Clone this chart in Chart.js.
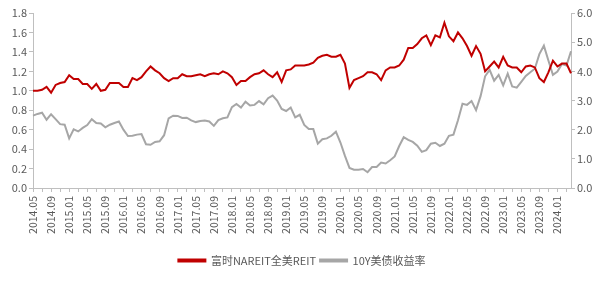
<!DOCTYPE html>
<html>
<head>
<meta charset="utf-8">
<script src="https://cdn.jsdelivr.net/npm/chart.js@4/dist/chart.umd.min.js"></script>
<style>
  html, body { margin: 0; padding: 0; background: #fff; }
  #wrap { width: 604px; height: 282px; }
</style>
</head>
<body>
<div id="wrap"><canvas id="myChart" width="604" height="282"></canvas></div>
<script>
// monthly categories 2014.05 .. 2024.04
const months = [];
for (let y = 2014, m = 5; months.length < 120; m++) {
  if (m > 12) { m = 1; y++; }
  months.push(y + '.' + (m < 10 ? '0' + m : m));
}

// 富时NAREIT全美REIT (left axis)
const reitIndex = [
  1.00, 1.00, 1.01, 1.04, 0.98, 1.06, 1.08, 1.09, 1.16, 1.12,
  1.12, 1.07, 1.07, 1.02, 1.07, 1.00, 1.01, 1.08, 1.08, 1.08,
  1.04, 1.04, 1.13, 1.11, 1.14, 1.20, 1.25, 1.21, 1.18, 1.13,
  1.10, 1.13, 1.13, 1.17, 1.15, 1.15, 1.16, 1.17, 1.15, 1.17,
  1.18, 1.17, 1.20, 1.18, 1.14, 1.06, 1.10, 1.10, 1.14, 1.17,
  1.18, 1.21, 1.17, 1.14, 1.19, 1.09, 1.21, 1.22, 1.26, 1.26,
  1.26, 1.27, 1.29, 1.34, 1.36, 1.37, 1.35, 1.35, 1.37, 1.28,
  1.03, 1.11, 1.13, 1.15, 1.19, 1.19, 1.17, 1.11, 1.21, 1.24,
  1.24, 1.26, 1.32, 1.44, 1.44, 1.48, 1.54, 1.57, 1.47, 1.57,
  1.55, 1.70, 1.56, 1.51, 1.60, 1.54, 1.46, 1.36, 1.46, 1.38,
  1.20, 1.25, 1.30, 1.24, 1.35, 1.26, 1.24, 1.24, 1.19, 1.25,
  1.26, 1.24, 1.13, 1.09, 1.19, 1.31, 1.25, 1.28, 1.28, 1.18
];

// 10Y美债收益率 (right axis, %)
const ust10y = [
  2.48, 2.54, 2.58, 2.34, 2.53, 2.36, 2.19, 2.17, 1.70, 2.01,
  1.94, 2.06, 2.16, 2.36, 2.23, 2.21, 2.08, 2.17, 2.23, 2.28,
  2.00, 1.78, 1.79, 1.83, 1.85, 1.50, 1.48, 1.58, 1.60, 1.81,
  2.39, 2.48, 2.47, 2.40, 2.41, 2.32, 2.26, 2.30, 2.31, 2.28,
  2.13, 2.33, 2.39, 2.42, 2.77, 2.88, 2.76, 2.96, 2.83, 2.85,
  2.98, 2.87, 3.08, 3.17, 3.00, 2.71, 2.64, 2.76, 2.42, 2.51,
  2.16, 2.02, 2.02, 1.52, 1.67, 1.70, 1.79, 1.93, 1.56, 1.10,
  0.69, 0.63, 0.63, 0.65, 0.54, 0.72, 0.72, 0.87, 0.84, 0.95,
  1.08, 1.44, 1.74, 1.65, 1.58, 1.45, 1.24, 1.30, 1.52, 1.55,
  1.44, 1.52, 1.79, 1.83, 2.32, 2.89, 2.85, 2.98, 2.67, 3.15,
  3.83, 4.05, 3.68, 3.88, 3.52, 3.92, 3.48, 3.44, 3.64, 3.84,
  3.97, 4.09, 4.59, 4.88, 4.37, 3.88, 3.99, 4.25, 4.20, 4.69
];

const leftTicks = [0, 0.2, 0.4, 0.6, 0.8, 1.0, 1.2, 1.4, 1.6, 1.8];
const rightTicks = [0, 1, 2, 3, 4, 5, 6];

const axisColor = '#bfbfbf';
const textColor = '#595959';
const fontFamily = '"Noto Sans CJK SC", "DejaVu Sans", sans-serif';

const ctx = document.getElementById('myChart').getContext('2d');
const chart = new Chart(ctx, {
  type: 'line',
  data: {
    labels: months,
    datasets: [{
      label: '富时NAREIT全美REIT',
      data: reitIndex,
      borderColor: '#c00000',
      backgroundColor: '#c00000',
      borderWidth: 2,
      pointRadius: 0,
      tension: 0,
      yAxisID: 'y'
    }, {
      label: '10Y美债收益率',
      data: ust10y,
      borderColor: '#a6a6a6',
      backgroundColor: '#a6a6a6',
      borderWidth: 2,
      pointRadius: 0,
      tension: 0,
      yAxisID: 'y2'
    }]
  },
  options: {
    responsive: false,
    animation: false,
    layout: { padding: { top: 13, left: 0, right: 0, bottom: 6 } },
    plugins: {
      tooltip: { enabled: false },
      legend: {
        position: 'bottom',
        labels: {
          boxWidth: 27,
          boxHeight: 2,
          padding: 4,
          color: textColor,
          font: { family: fontFamily, size: 11 }
        }
      }
    },
    scales: {
      x: {
        offset: false,
        grid: { display: true, drawOnChartArea: false, drawTicks: true, tickLength: 4, color: axisColor },
        border: { display: true, color: axisColor },
        ticks: {
          autoSkip: false,
          maxRotation: 90,
          minRotation: 90,
          padding: 4,
          color: textColor,
          font: { family: fontFamily, size: 10.5 },
          callback: function (val, i) {
            if (i % 2 === 1) return null;
            return i % 4 === 0 ? months[i] : '';
          }
        },
        afterFit: function (scale) { scale.height = 63; }
      },
      y: {
        position: 'left',
        min: 0,
        max: 1.8,
        afterBuildTicks: function (scale) { scale.ticks = leftTicks.map(v => ({ value: v })); },
        grid: { display: true, drawOnChartArea: false, drawTicks: true, tickLength: 4, color: axisColor },
        border: { display: true, color: axisColor },
        ticks: {
          padding: 2,
          color: textColor,
          font: { family: fontFamily, size: 11 },
          callback: function (v) { return v.toFixed(1); }
        },
        afterFit: function (scale) { scale.width = 33; }
      },
      y2: {
        position: 'right',
        min: 0,
        max: 6,
        afterBuildTicks: function (scale) { scale.ticks = rightTicks.map(v => ({ value: v })); },
        grid: { display: true, drawOnChartArea: false, drawTicks: true, tickLength: 4, color: axisColor },
        border: { display: true, color: axisColor },
        ticks: {
          padding: 2,
          color: textColor,
          font: { family: fontFamily, size: 11 },
          callback: function (v) { return v.toFixed(1); }
        },
        afterFit: function (scale) { scale.width = 33; }
      }
    }
  }
});
</script>
</body>
</html>
